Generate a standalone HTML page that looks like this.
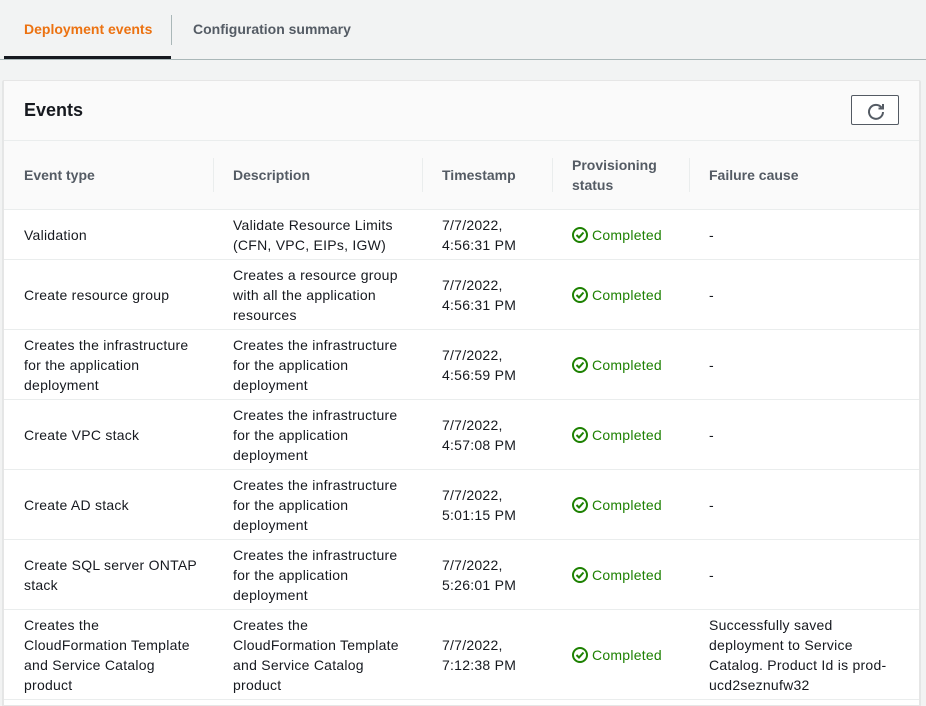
<!DOCTYPE html>
<html><head><style>
*{box-sizing:border-box;margin:0;padding:0}
body{width:926px;height:706px;overflow:hidden;background:#f2f3f3;font-family:"Liberation Sans",Arial,sans-serif;font-size:14px;color:#16191f;position:relative;letter-spacing:0.25px}
.tabs{position:absolute;left:0;top:0;width:926px;height:60px;border-bottom:1px solid #aab7b8}
.tab{position:absolute;top:21px;font-weight:bold;font-size:14px;letter-spacing:0}
.t1{left:24px;color:#ec7211}
.t2{left:193px;color:#545b64}
.ul{position:absolute;left:4px;top:56px;width:167px;height:3px;background:#16191f}
.sep{position:absolute;left:171px;top:15px;width:1px;height:30px;background:#aab7b8}
.box{position:absolute;left:3px;top:80px;width:917px;height:626px;background:#fff;border:1px solid #e6e6e6;box-shadow:0 1px 1px rgba(0,28,36,.3)}
.hdr{position:absolute;left:0;top:0;width:100%;height:60px;background:#fafafa;border-bottom:1px solid #eaeded}
.hdr h2{position:absolute;left:20px;top:19px;font-size:18px;font-weight:bold;letter-spacing:0}
.btn{position:absolute;left:847px;top:14px;width:48px;height:30px;border:1px solid #545b64;border-radius:2px;background:#fff}
table{position:absolute;left:0;top:60px;border-collapse:collapse;width:915px}
th{background:#fafafa;color:#545b64;font-weight:bold;text-align:left;height:68px;padding:0 0 0 20px;position:relative;border-bottom:1px solid #eaeded;line-height:20px;vertical-align:middle;letter-spacing:0}
th.d::before{content:"";position:absolute;left:0;top:17px;height:34px;width:1px;background:#eaeded}
td{padding:5px 14px 4px 20px;line-height:20px;border-bottom:1px solid #eaeded;vertical-align:middle}
.ok{color:#1d8102;white-space:nowrap}
.ok svg{vertical-align:-3px;margin-right:4px}
</style></head><body>
<div class="tabs"><span class="tab t1">Deployment events</span><span class="sep"></span><span class="tab t2">Configuration summary</span><div class="ul"></div></div>
<div class="box">
<div class="hdr"><h2>Events</h2><div class="btn"><svg width="48" height="30" viewBox="0 0 48 30"><path d="M29.5 11.5 A7 7 0 1 0 31 16" fill="none" stroke="#545b64" stroke-width="2"/><path d="M31 8 V12.5 H26.5" fill="none" stroke="#545b64" stroke-width="2"/></svg></div></div>
<table>
<colgroup><col style="width:209px"><col style="width:209px"><col style="width:130px"><col style="width:137px"><col></colgroup>
<tr><th>Event type</th><th class="d">Description</th><th class="d">Timestamp</th><th class="d">Provisioning<br>status</th><th class="d">Failure cause</th></tr>
<tr style="height:49px"><td>Validation</td><td>Validate Resource Limits (CFN, VPC, EIPs, IGW)</td><td>7/7/2022,<br>4:56:31 PM</td><td class="ok"><svg width="16" height="16"><circle cx="8" cy="8" r="7" fill="none" stroke="#1d8102" stroke-width="2"/><path d="M4.5 8 L7 10.5 L11.5 5.5" fill="none" stroke="#1d8102" stroke-width="2"/></svg>Completed</td><td>-</td></tr>
<tr style="height:69px"><td>Create resource group</td><td>Creates a resource group with all the application resources</td><td>7/7/2022,<br>4:56:31 PM</td><td class="ok"><svg width="16" height="16"><circle cx="8" cy="8" r="7" fill="none" stroke="#1d8102" stroke-width="2"/><path d="M4.5 8 L7 10.5 L11.5 5.5" fill="none" stroke="#1d8102" stroke-width="2"/></svg>Completed</td><td>-</td></tr>
<tr style="height:69px"><td>Creates the infrastructure for the application deployment</td><td>Creates the infrastructure for the application deployment</td><td>7/7/2022,<br>4:56:59 PM</td><td class="ok"><svg width="16" height="16"><circle cx="8" cy="8" r="7" fill="none" stroke="#1d8102" stroke-width="2"/><path d="M4.5 8 L7 10.5 L11.5 5.5" fill="none" stroke="#1d8102" stroke-width="2"/></svg>Completed</td><td>-</td></tr>
<tr style="height:69px"><td>Create VPC stack</td><td>Creates the infrastructure for the application deployment</td><td>7/7/2022,<br>4:57:08 PM</td><td class="ok"><svg width="16" height="16"><circle cx="8" cy="8" r="7" fill="none" stroke="#1d8102" stroke-width="2"/><path d="M4.5 8 L7 10.5 L11.5 5.5" fill="none" stroke="#1d8102" stroke-width="2"/></svg>Completed</td><td>-</td></tr>
<tr style="height:69px"><td>Create AD stack</td><td>Creates the infrastructure for the application deployment</td><td>7/7/2022,<br>5:01:15 PM</td><td class="ok"><svg width="16" height="16"><circle cx="8" cy="8" r="7" fill="none" stroke="#1d8102" stroke-width="2"/><path d="M4.5 8 L7 10.5 L11.5 5.5" fill="none" stroke="#1d8102" stroke-width="2"/></svg>Completed</td><td>-</td></tr>
<tr style="height:69px"><td>Create SQL server ONTAP stack</td><td>Creates the infrastructure for the application deployment</td><td>7/7/2022,<br>5:26:01 PM</td><td class="ok"><svg width="16" height="16"><circle cx="8" cy="8" r="7" fill="none" stroke="#1d8102" stroke-width="2"/><path d="M4.5 8 L7 10.5 L11.5 5.5" fill="none" stroke="#1d8102" stroke-width="2"/></svg>Completed</td><td>-</td></tr>
<tr style="height:89px"><td>Creates the CloudFormation Template and Service Catalog product</td><td>Creates the CloudFormation Template and Service Catalog product</td><td>7/7/2022,<br>7:12:38 PM</td><td class="ok"><svg width="16" height="16"><circle cx="8" cy="8" r="7" fill="none" stroke="#1d8102" stroke-width="2"/><path d="M4.5 8 L7 10.5 L11.5 5.5" fill="none" stroke="#1d8102" stroke-width="2"/></svg>Completed</td><td style="white-space:nowrap">Successfully saved<br>deployment to Service<br>Catalog. Product Id is prod-<br>ucd2seznufw32</td></tr>
</table>
</div>
</body></html>
